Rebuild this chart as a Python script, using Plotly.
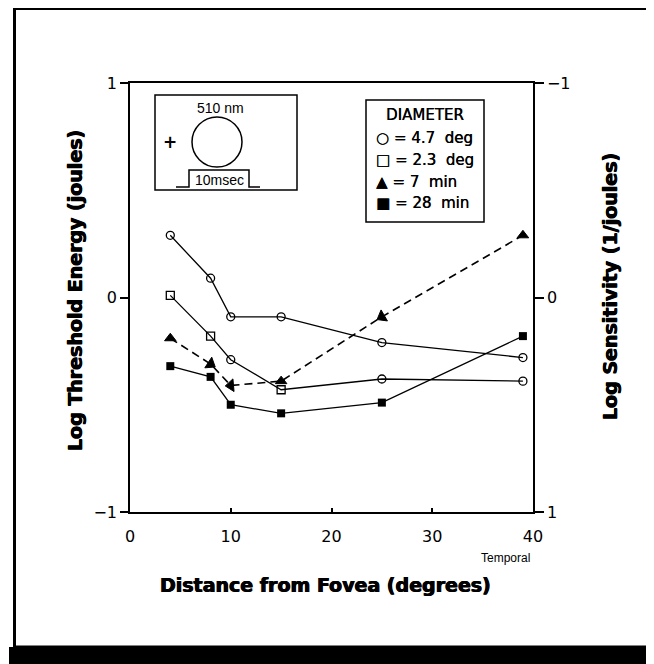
import plotly.graph_objects as go

# ---------------- data ----------------
distance = [4, 8, 10, 15, 25, 39]
diam_4_7_deg = [0.29, 0.09, -0.09, -0.09, -0.21, -0.28]
diam_2_3_deg = [0.01, -0.18, -0.29, -0.43, -0.38, -0.39]
diam_7_min = [-0.19, -0.31, -0.41, -0.39, -0.09, 0.29]
diam_28_min = [-0.32, -0.37, -0.50, -0.54, -0.49, -0.18]

x_ticks = [0, 10, 20, 30, 40]
x_ticklabels = ["0", "10", "20", "30", "40"]
y_ticks = [-1, 0, 1]
y_ticklabels = ["−1", "0", "1"]
y2_ticklabels = ["−1", "0", "1"]

legend_title = "DIAMETER"
legend_items = ["○ = 4.7  deg", "□ = 2.3  deg", "▲ = 7  min", "■ = 28  min"]

# ---------------- layout geometry (window pixels) ----------------
BODY = 8                      # default page margin around the plot div
W, H = 654 - BODY, 664 - BODY
PLOT_L, PLOT_R, PLOT_T, PLOT_B = 130, 533, 83, 512
L = PLOT_L - BODY
T = PLOT_T - BODY
R = (W + BODY) - PLOT_R
B = (H + BODY) - PLOT_B
PW = PLOT_R - PLOT_L
PH = PLOT_B - PLOT_T


def px(x):
    return (x - PLOT_L) / PW


def py(y):
    return (PLOT_B - y) / PH


FONT = "DejaVu Sans"
BLACK = "#000000"
HEAVY = "0.5px 0 0 #000, -0.5px 0 0 #000"
DEMI = "0.35px 0 0 #000"

fig = go.Figure()

fig.add_trace(go.Scatter(
    x=distance, y=diam_4_7_deg, mode="lines+markers",
    line=dict(color=BLACK, width=1.3),
    marker=dict(symbol="circle-open", size=8, color=BLACK, line=dict(width=1.3)),
    showlegend=False,
))
fig.add_trace(go.Scatter(
    x=distance, y=diam_2_3_deg, mode="lines+markers",
    line=dict(color=BLACK, width=1.3),
    marker=dict(symbol=["square-open", "square-open", "circle-open", "square-open",
                        "circle-open", "circle-open"],
                size=8, color=BLACK, line=dict(width=1.3)),
    showlegend=False,
))
# 7 min: dashed path, then triangles / direction arrowheads on top
fig.add_trace(go.Scatter(
    x=distance, y=diam_7_min, mode="lines",
    line=dict(color=BLACK, width=1.6, dash="8px,5px"),
    showlegend=False,
))
fig.add_trace(go.Scatter(
    x=distance, y=diam_7_min, mode="markers", opacity=1,
    marker=dict(symbol="triangle-up",
                angle=[0, 123, 265, 0, 240, 0],
                size=[10, 11, 11, 10, 11, 10], color="black", opacity=1,
                line=dict(width=1, color="black")),
    showlegend=False,
))
fig.add_trace(go.Scatter(
    x=distance, y=diam_28_min, mode="lines+markers",
    line=dict(color=BLACK, width=1.3),
    marker=dict(symbol="square", size=8, color=BLACK),
    showlegend=False,
))
# empty trace so the right-hand (sensitivity) axis is drawn
fig.add_trace(go.Scatter(x=[], y=[], yaxis="y2", showlegend=False, hoverinfo="skip"))

shapes = []
# outer frame
shapes.append(dict(type="rect", xref="paper", yref="paper",
                   x0=px(14.5), x1=px(648), y0=py(647), y1=py(8.5),
                   line=dict(color=BLACK, width=3)))
shapes.append(dict(type="rect", xref="paper", yref="paper",
                   x0=px(9), x1=px(670), y0=py(680), y1=py(647),
                   line=dict(width=0), fillcolor=BLACK))
# stimulus inset
shapes.append(dict(type="rect", xref="paper", yref="paper",
                   x0=px(155), x1=px(297), y0=py(190), y1=py(95),
                   line=dict(color=BLACK, width=1.5)))
shapes.append(dict(type="circle", xref="paper", yref="paper",
                   x0=px(192), x1=px(242), y0=py(167), y1=py(117),
                   line=dict(color=BLACK, width=1.5)))
pulse = [(176, 187), (189, 187), (189, 170), (249, 170), (249, 187), (260, 187)]
path = "M " + " L ".join(f"{px(a):.5f},{py(b):.5f}" for a, b in pulse)
shapes.append(dict(type="path", xref="paper", yref="paper", path=path,
                   line=dict(color=BLACK, width=1.5)))
# legend box
shapes.append(dict(type="rect", xref="paper", yref="paper",
                   x0=px(366), x1=px(484), y0=py(222), y1=py(100),
                   line=dict(color=BLACK, width=1.5)))

annotations = []


def ann(text, x, y, size, xanchor="center", angle=0, family=FONT, shadow=None):
    f = dict(family=family, size=size, color=BLACK)
    if shadow:
        f["shadow"] = shadow
    annotations.append(dict(text=text, xref="paper", yref="paper", x=px(x), y=py(y),
                            xanchor=xanchor, yanchor="middle", showarrow=False,
                            textangle=angle, font=f))


ann("510 nm", 220, 108, 14, family="Liberation Sans")
ann("<b>+</b>", 170, 142, 17)
ann("10msec", 219, 180, 14, family="Liberation Sans")
ann(legend_title, 425, 115, 15, shadow=DEMI)
for i, item in enumerate(legend_items):
    ann(item, 374, [138, 160, 182, 203][i], 15, xanchor="left", shadow=DEMI)

ann("<b>Log Threshold Energy (joules)</b>", 75, 291, 19, angle=-90, shadow=HEAVY)
ann("<b>Log Sensitivity (1/joules)</b>", 610, 287, 19, angle=-90, shadow=HEAVY)
ann("<b>Distance from Fovea (degrees)</b>", 325, 585, 19, shadow=HEAVY)
ann("Temporal", 505, 558, 12, family="Liberation Sans")

fig.update_layout(
    width=W, height=H,
    margin=dict(l=L, r=R, t=T, b=B, pad=0),
    paper_bgcolor="white", plot_bgcolor="white",
    shapes=shapes, annotations=annotations,
    showlegend=False,
    xaxis=dict(range=[0, 40], tickvals=x_ticks, ticktext=x_ticklabels,
               showgrid=False, zeroline=False, showline=True, linecolor=BLACK,
               linewidth=1.5, mirror=True, ticks="inside", ticklen=4, tickwidth=1.5,
               tickcolor=BLACK, ticklabelstandoff=9,
               tickfont=dict(family=FONT, size=16, color=BLACK)),
    yaxis=dict(range=[-1, 1], tickvals=y_ticks, ticktext=y_ticklabels,
               showgrid=False, zeroline=False, showline=True, linecolor=BLACK,
               linewidth=1.5, ticks="outside", ticklen=8, tickwidth=1.5,
               tickcolor=BLACK,
               tickfont=dict(family=FONT, size=16, color=BLACK)),
    yaxis2=dict(range=[1, -1], overlaying="y", side="right", anchor="x",
                tickvals=y_ticks, ticktext=y2_ticklabels,
                showgrid=False, zeroline=False, showline=True, linecolor=BLACK,
                linewidth=1.5, ticks="outside", ticklen=9, tickwidth=1.5,
                tickcolor=BLACK,
                tickfont=dict(family=FONT, size=16, color=BLACK)),
)

fig.write_html("out.html")
